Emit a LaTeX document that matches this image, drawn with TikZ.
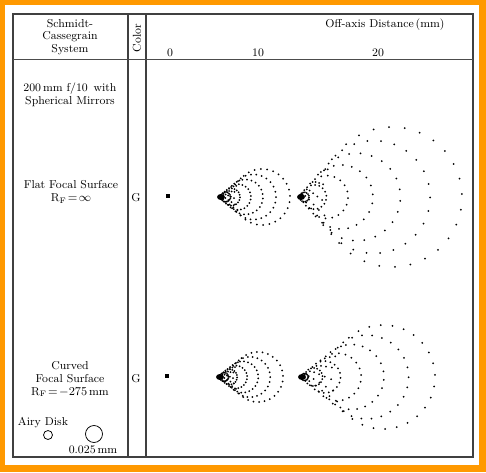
\documentclass[tikz,border=0pt]{standalone}
\usepackage{amssymb}

\definecolor{frameorange}{RGB}{255,153,0}

\tikzset{
	txt/.style = {font=\fontsize{8.6}{9.6}\selectfont, inner sep=0pt, align=center},
	rule/.style = {line width = 0.35mm, black!75},
}

% one coma pattern: tip x, tip y, largest offset, largest radius
\newcommand{\comaspot}[4]{%
	\foreach \k in {1,...,7}{%
		\pgfmathsetmacro{\rr}{(\k/7)^1.4}%
		\pgfmathsetmacro{\cx}{#1+#3*\rr}%
		\pgfmathsetmacro{\rad}{#4*\rr}%
		\pgfmathtruncatemacro{\nn}{14+2*\k}%
		\foreach \j in {1,...,\nn}{%
			\pgfmathsetmacro{\px}{\cx+\rad*cos(360*\j/\nn+7*\k)}%
			\pgfmathsetmacro{\py}{#2+\rad*sin(360*\j/\nn+7*\k)}%
			\fill (\px,\py) circle (1);
		}%
	}%
	\fill (#1+3,#2) ellipse (4 and 3);
}

\begin{document}
\begin{tikzpicture}[x=0.75pt,y=-0.75pt]
		
		\fill[frameorange] (0,0) rectangle (486,472);
		\fill[white] (5,5) rectangle (479,465);
		\useasboundingbox (0,0) rectangle (486,472);
		
		% frame and columns
		\draw[rule] (13,14) rectangle (473,457);
		\draw[rule] (128,14) -- (128,457);
		\draw[rule] (146,14) -- (146,457);
		\draw[line width = 0.2mm, black!70] (13,59) -- (473,59);
		
		% header
		\node[txt] (sys) at (70,37) {Schmidt-\\Cassegrain\\System};
		\node[txt, rotate=90] (col) at (137,38) {Color};
		\node[txt] (off) at (385,25) {Off-axis Distance\,(mm)};
		\node[txt] (t0) at (170,53) {0};
		\node[txt] (t10) at (258,53) {10};
		\node[txt] (t20) at (378,53) {20};
		
		% left column
		\node[txt] (tel) at (70,95) {200\,mm f/10\enspace with\\Spherical Mirrors};
		\node[txt] (flat) at (71,192) {Flat Focal Surface\\R$_{\mathrm{F}}\!=\!\infty$};
		\node[txt] (curv) at (70,379) {Curved\\Focal Surface\\R$_{\mathrm{F}}\!=\!-275$\,mm};
		\node[txt] (g1) at (136,198) {G};
		\node[txt] (g2) at (136,379) {G};
		
		% Airy disk
		\node[txt] (airy) at (43,423) {Airy Disk};
		\draw[line width = 0.2mm] (48,435) circle (4.5);
		\draw[line width = 0.2mm] (94,434) circle (8.5);
		\node[txt] (scl) at (93,450) {0.025\,mm};
		
		% on-axis images
		\fill (166,194) rectangle (170,198);
		\fill (165,374) rectangle (169,378);
		
		% flat focal surface
		\comaspot{218}{197}{44}{28}
		\comaspot{298}{197}{94}{70}
		
		% curved focal surface
		\comaspot{217}{377}{41}{25}
		\comaspot{299}{377}{84}{52}
		
	\end{tikzpicture}
\end{document}
